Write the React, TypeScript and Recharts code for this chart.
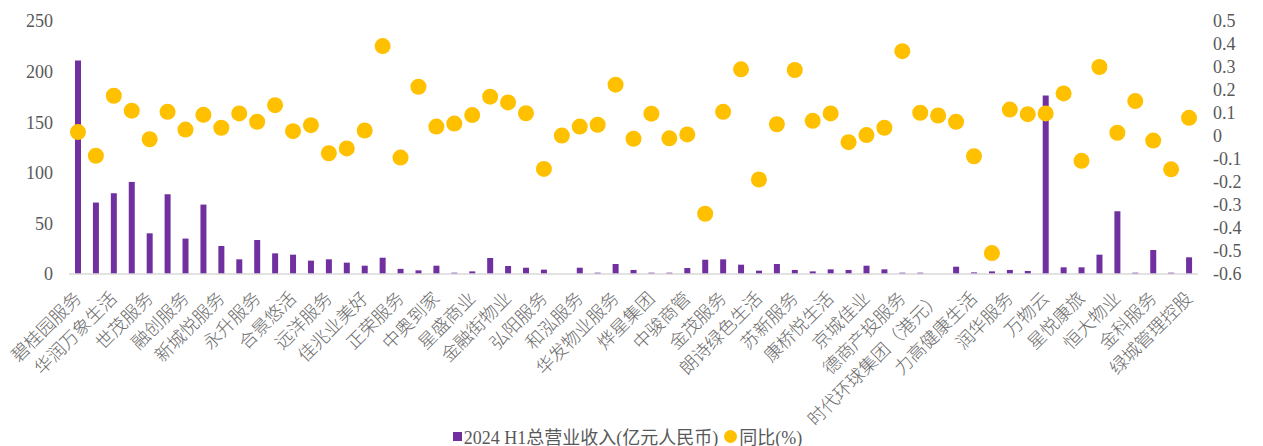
import React from "react";
import {
  ComposedChart,
  Bar,
  Scatter,
  XAxis,
  YAxis,
  Legend,
} from "recharts";

// 公司名称（偶数位在横轴显示）
const companies = [
  "碧桂园服务", "雅生活服务", "华润万象生活", "保利物业", "世茂服务", "中海物业",
  "融创服务", "绿城服务", "新城悦服务", "建业新生活", "永升服务", "宝龙商业",
  "合景悠活", "卓越商企服务", "远洋服务", "滨江服务", "佳兆业美好", "建发物业",
  "正荣服务", "时代邻里", "中奥到家", "奥园健康", "星盛商业", "越秀服务",
  "金融街物业", "德信服务集团", "弘阳服务", "荣万家", "和泓服务", "领悦服务",
  "华发物业服务", "兴业物联", "烨星集团", "鑫苑服务", "中骏商管", "第一服务控股",
  "金茂服务", "新希望服务", "朗诗绿色生活", "东原仁知服务", "苏新服务", "宋都服务",
  "康桥悦生活", "银城生活服务", "京城佳业", "祈福生活服务", "德商产投服务", "汇景控股",
  "时代环球集团（港元）", "合生活", "力高健康生活", "珠江城市服务", "润华服务", "融信服务",
  "万物云", "中天服务", "星悦康旅", "新大正", "恒大物业", "佳源服务",
  "金科服务", "华宇物业", "绿城管理控股",
];

// 2024 H1总营业收入（亿元人民币）
const revenue = [
  211, 70.6, 79.8, 91, 40.2, 78.8, 35, 68.6, 27.7, 14.5, 33.6, 20.4,
  19.1, 13.2, 14.5, 11.2, 8.2, 16.1, 5.1, 3.6, 8.2, 1.3, 2.6, 15.8,
  7.9, 6.2, 4.3, 0, 6.2, 1.3, 9.9, 4, 1.3, 1.3, 5.9, 14.1,
  14.5, 9.2, 3.3, 9.9, 4, 2.6, 4.6, 4, 8.2, 4.6, 1.3, 1.3,
  0, 7.2, 1.6, 2.6, 4, 3, 176.4, 6.6, 6.6, 19.1, 62, 1.3,
  23.7, 1.3, 16.5,
];

// 同比
const yoy = [
  0.017, -0.086, 0.175, 0.11, -0.014, 0.105, 0.028, 0.092, 0.036, 0.098, 0.062, 0.134,
  0.021, 0.047, -0.075, -0.054, 0.024, 0.391, -0.094, 0.214, 0.041, 0.054, 0.091, 0.171,
  0.146, 0.099, -0.143, 0.002, 0.041, 0.049, 0.223, -0.012, 0.097, -0.01, 0.007, -0.338,
  0.105, 0.29, -0.189, 0.051, 0.287, 0.066, 0.098, -0.027, 0.004, 0.036, 0.369, 0.101,
  0.089, 0.062, -0.088, -0.509, 0.115, 0.095, 0.098, 0.185, -0.108, 0.3, 0.014, 0.152,
  -0.02, -0.145, 0.079,
];

const leftTicks = [0, 50, 100, 150, 200, 250];
const rightTicks = [-0.6, -0.5, -0.4, -0.3, -0.2, -0.1, 0, 0.1, 0.2, 0.3, 0.4, 0.5];

const data = companies.map((name, i) => ({
  name,
  revenue: revenue[i],
  yoy: yoy[i],
}));

const TEXT = "#595959";
const FONT = "'Liberation Serif', 'Noto Sans CJK SC', serif";

const CategoryTick = ({ x, y, payload }: any) => (
  <g transform={`translate(${x},${y + 19}) rotate(-45)`}>
    <text
      x={0}
      y={0}
      dy="0.35em"
      textAnchor="end"
      fill="#6b6b6b"
      fontSize={18}
      fontWeight={300}
      fontFamily="'Noto Sans CJK SC', sans-serif"
    >
      {payload.value}
    </text>
  </g>
);

const Dot = (props: any) => {
  const { cx, cy } = props;
  return <circle cx={cx} cy={cy} r={8} fill="#FFC000" />;
};

const LegendContent = () => (
  <div
    style={{
      display: "flex",
      justifyContent: "center",
      alignItems: "center",
      paddingTop: 11,
      paddingRight: 8,
      fontFamily: FONT,
      fontSize: 18,
      color: TEXT,
    }}
  >
    <span
      style={{ width: 9, height: 9, background: "#7030A0", marginRight: 2 }}
    />
    <span>2024 H1总营业收入(亿元人民币)</span>
    <span
      style={{
        width: 13,
        height: 13,
        borderRadius: "50%",
        background: "#FFC000",
        margin: "0 2px 0 6px",
      }}
    />
    <span>同比(%)</span>
  </div>
);

const fmtRight = (v: number) => (v === 0 ? "0" : v.toFixed(1));

export default function App() {
  return (
    <div style={{ position: "absolute", left: 0, top: 0, background: "#fff" }}>
      <ComposedChart
        width={1263}
        height={446}
        data={data}
        margin={{ top: 21, right: 0, bottom: 0, left: 0 }}
      >
        <XAxis
          dataKey="name"
          interval={1}
          height={138}
          tickLine={false}
          tickSize={0}
          axisLine={{ stroke: "#D9D9D9", strokeWidth: 1.5 }}
          tick={<CategoryTick />}
        />
        <YAxis
          yAxisId="left"
          orientation="left"
          width={69}
          domain={[0, 250]}
          ticks={leftTicks}
          interval={0}
          axisLine={false}
          tickLine={false}
          tickSize={0}
          tickMargin={16}
          tick={{ fill: TEXT, fontSize: 18, fontFamily: FONT }}
        />
        <YAxis
          yAxisId="right"
          orientation="right"
          width={65}
          domain={[-0.6, 0.5]}
          ticks={rightTicks}
          interval={0}
          tickFormatter={fmtRight}
          axisLine={false}
          tickLine={false}
          tickSize={0}
          tickMargin={15}
          tick={{ fill: TEXT, fontSize: 18, fontFamily: FONT }}
        />
        <Legend
          verticalAlign="bottom"
          height={34}
          content={<LegendContent />}
        />
        <Bar
          yAxisId="left"
          dataKey="revenue"
          name="2024 H1总营业收入(亿元人民币)"
          fill="#7030A0"
          barSize={6}
          isAnimationActive={false}
        />
        <Scatter
          yAxisId="right"
          dataKey="yoy"
          name="同比(%)"
          fill="#FFC000"
          shape={<Dot />}
          isAnimationActive={false}
        />
      </ComposedChart>
    </div>
  );
}
